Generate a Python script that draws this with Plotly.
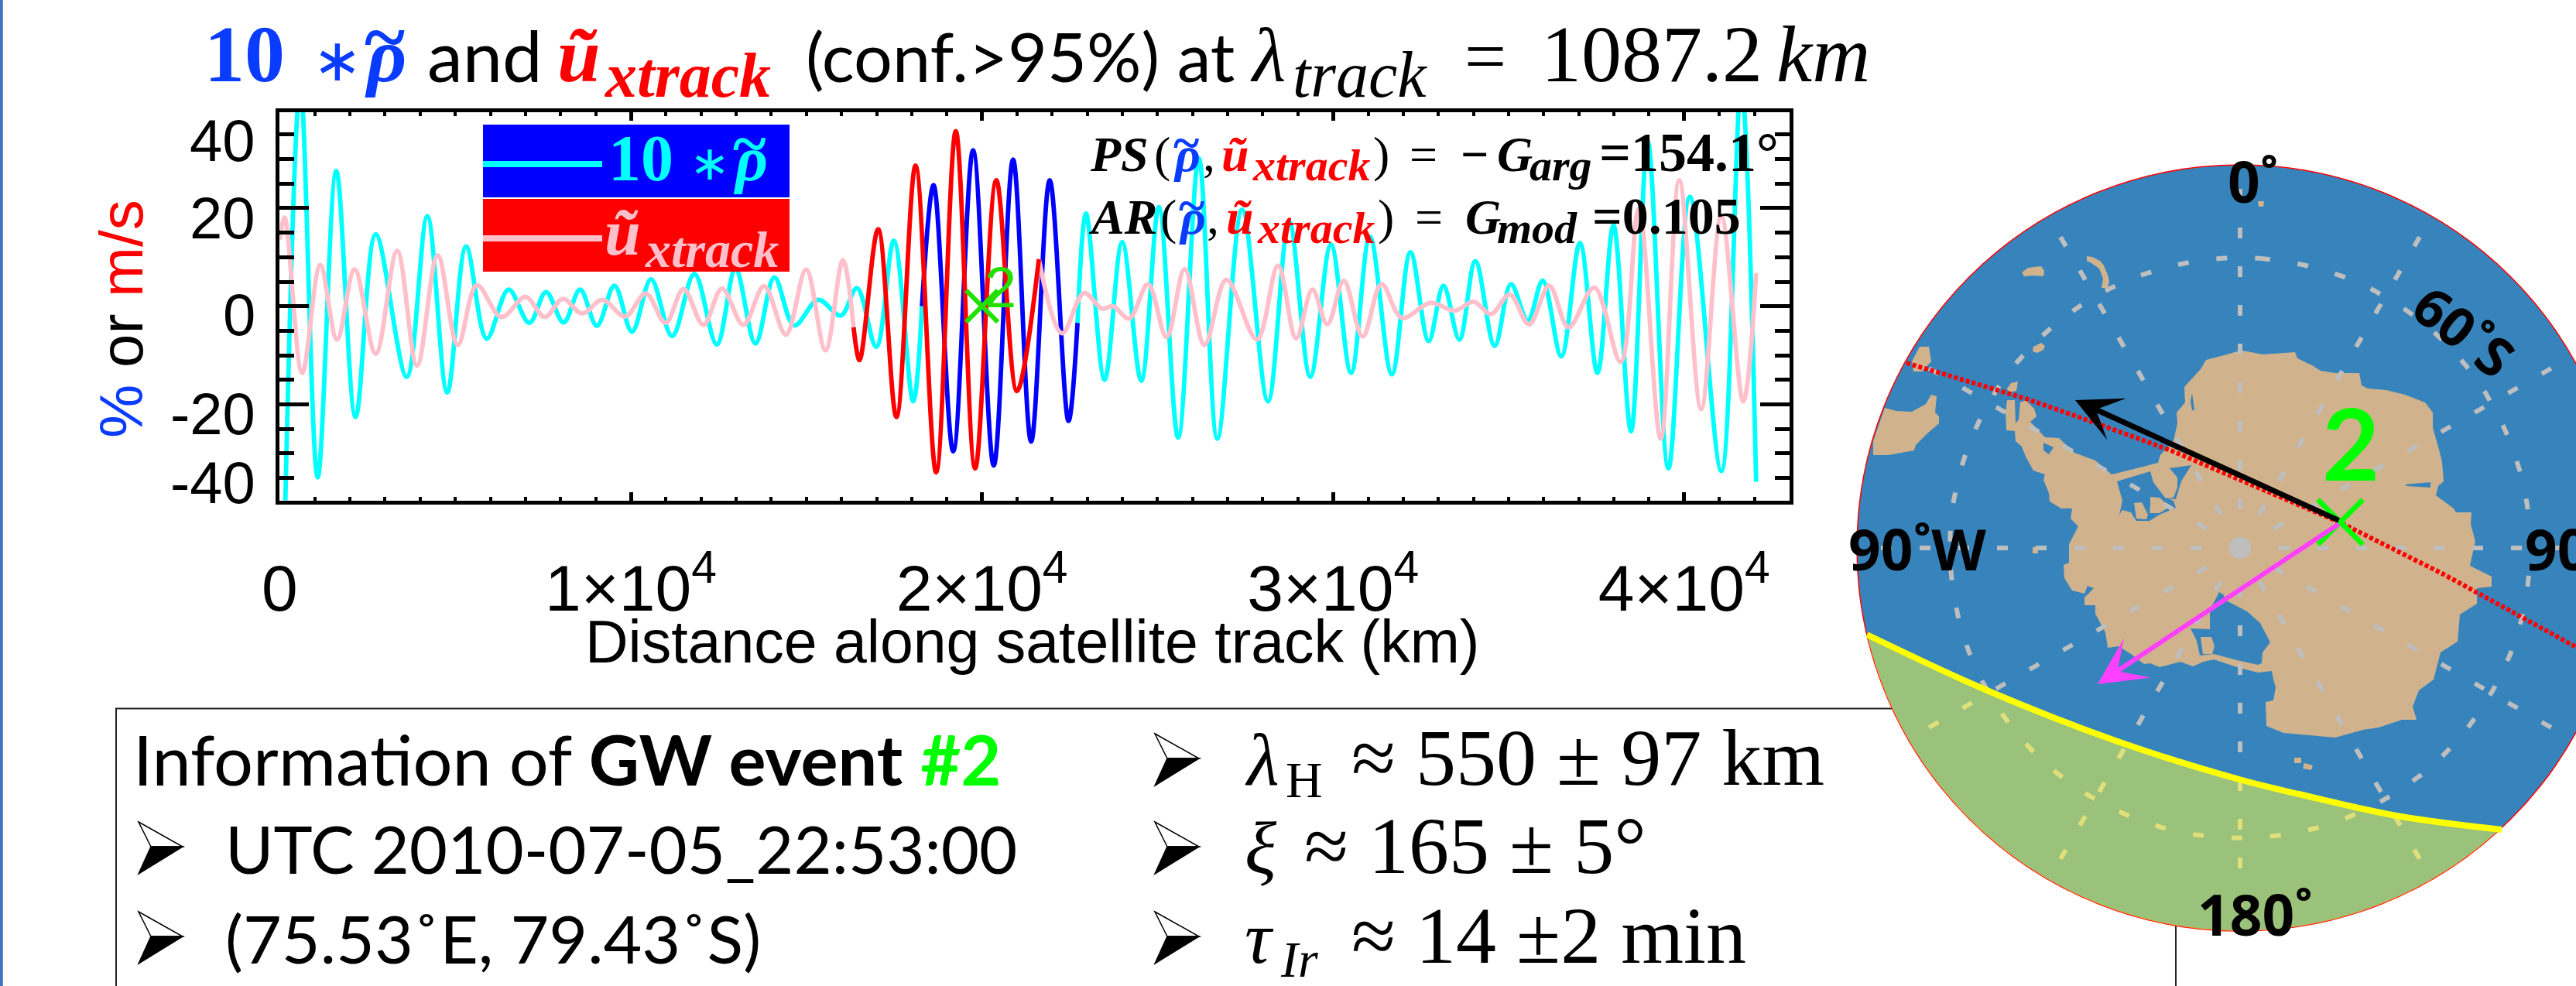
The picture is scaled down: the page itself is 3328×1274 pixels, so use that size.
import numpy as np
import plotly.graph_objects as go

W, H = 3328, 1274

# ---------- wave series (distance km, value) read at extrema ----------
rho_x = [160,588,1080,1610,2160,2734,3616,4204,4770,5307,5895,6519,7107,7585,8085,8555,9033,9533,10033,10576,11175,
         11810,12449,12980,13551,14088,14654,15337,15977,16440,16991,17491,18042,18292,18623,19182,19748,20336,20887,
         21401,21930,22465,22722,22965,23494,23994,24538,25038,25589,26177,26706,27412,28147,28749,29352,29940,30513,
         31050,31675,32204,32725,33145,33598,34054,34605,35068,35546,35972,36501,37031,37531,37986,38486,38964,39552,
         40162,41058,41624,42051]
rho_y = [-39.6,45,-34.9,27.6,-22.6,14.7,-14.4,18.4,-17.6,12.2,-6.6,3.4,-3.4,2.9,-3.3,3.4,-4.0,4.2,-5.2,5.5,-6.1,
         6.6,-7.8,7.6,-7.6,5.9,-3.9,1.3,-1.9,3.7,-8.3,13.4,-19.4,0,24.7,-29.6,31.8,-32.5,29.9,
         -27.6,25.7,-23.4,-3.4,18.9,-15,13.1,-15.2,20.2,-26.8,30.2,-27,19.7,-19.4,17.3,-14.4,12.6,-13.6,
         14.2,-13.9,11.0,-7.1,4.2,-6.8,9.2,-8.1,4.5,-2.9,5.2,-10.2,12.9,-13.6,16.5,-25.5,33.6,-33.1,
         22.3,-33.6,45,-35.8]
u_x = [0,140,640,1154,1632,2132,2734,3344,3910,4498,5071,5615,6314,7000,7548,8063,8614,9187,9841,10430,10988,
       11501,12067,12596,13206,13794,14419,14992,15543,16036,16344,16514,17043,17565,18109,18696,19255,19806,20409,
       20997,21622,22282,22906,23420,23729,24192,24729,25258,25773,26338,26963,27831,28433,28948,29411,29837,30307,
       30844,31381,31961,32770,33466,34003,34502,35032,35583,36156,36707,37442,38192,38707,39331,39860,40485,41058,
       41683,42051]
u_y = [13.6,18.1,-13.6,8.4,-6.8,7.5,-9.7,11.3,-12.1,10.4,-7.9,4.3,-2.2,1.9,-2.2,1.5,-1.5,1.3,-2.1,2.6,-3.4,
       3.5,-3.8,3.6,-3.8,4.1,-5.8,7.5,-9.0,9.4,-4.3,-11.0,15.7,-22.6,28.7,-33.9,35.7,-33.1,25.7,
       -17.3,9.6,-5.5,2.7,-0.5,0,-2.5,4.5,-6.3,7.6,-7.9,5.4,-6.8,8.3,-6.6,3.4,-3.7,5.2,
       -6.2,4.5,-2.4,0.7,-0.9,0.9,-1.6,2.4,-3.7,4.2,-4.3,3.8,-11.4,19.9,-27,25.7,-21,18.4,
       -19.4,6.8]
rho_conf = (18292, 22722)
u_conf = (16344, 21622)
event_x = [20000]
event_y = [0]
x_ticks = [0, 10000, 20000, 30000, 40000]
x_tick_text = ["0", "1×10<sup>4</sup>", "2×10<sup>4</sup>", "3×10<sup>4</sup>", "4×10<sup>4</sup>"]
y_ticks = [-20, 0, 20]

# ---------- map geometry (map units, pole at origin, y towards lon 0) ----------
disc_radius = 495
spoke_lons = list(range(0, 360, 30))
spoke_end = 470
ring_radius = 375
pole_radius = 14
event_lon, event_lat = 75.53, -79.43
map_scale = 12.65   # map units per degree of colatitude

antarctica = [(-6,256),(9,254),(29,250),(46,251),(71,253),(74,245),(93,236),(104,229),(123,226),(154,226),(157,210),
 (165,206),(189,204),(213,198),(239,188),(249,175),(249,155),(256,131),(261,111),(263,86),(256,80),(253,68),(276,51),
 (279,46),(299,46),(298,31),(304,8),(303,5),(297,-23),(325,-37),(325,-50),(306,-52),(306,-72),(284,-86),(281,-121),
 (259,-135),(250,-170),(231,-184),(223,-205),(228,-222),(209,-222),(179,-232),(159,-235),(123,-245),(86,-242),
 (56,-239),(34,-230),(33,-199),(43,-197),(46,-180),(43,-170),(41,-159),(23,-161),(-4,-154),(-34,-144),(-47,-147),
 (-61,-153),(-77,-147),(-104,-154),(-116,-149),(-124,-150),(-141,-137),(-157,-127),(-171,-129),(-174,-109),(-187,-85),
 (-187,-74),(-201,-74),(-201,-64),(-189,-52),(-197,-49),(-201,-59),(-217,-55),(-227,-39),(-228,-22),(-221,-19),(-221,5),
 (-209,28),(-219,38),(-217,51),(-231,51),(-246,60),(-247,71),(-254,88),(-252,95),(-267,100),(-277,118),(-282,131),
 (-290,138),(-291,151),(-302,152),(-303,175),(-301,191),(-291,191),(-290,161),(-286,166),(-284,188),(-277,191),
 (-266,180),(-263,170),(-271,163),(-261,153),(-252,143),(-234,142),(-214,123),(-187,113),(-166,95),(-141,101),
 (-106,110),(-103,120),(-86,138),(-81,161),(-82,175),(-71,188),(-72,208),(-51,231),(-44,243),(-17,250),(0,255)]
seas = [
 [(-159,86),(-116,99),(-112,85),(-97,65),(-86,61),(-83,52),(-104,43),(-117,35),(-134,35),(-141,46),(-152,49),(-156,43),(-152,61)],
 [(-91,103),(-63,107),(-76,86),(-83,63),(-99,64),(-86,65),(-81,78),(-81,91)],
 [(-254,136),(-241,130),(-247,121),(-254,126)],
 [(-62,200),(-59,178),(-62,178),(-64,190)],
 [(213,82),(246,85),(246,78),(216,80)],
 [(-27,-57),(-22,-60),(-16,-69),(9,-82),(26,-97),(39,-122),(29,-135),(28,-149),(23,-151),(-4,-145),(-34,-137),(-46,-138),
  (-52,-139),(-56,-120),(-64,-104),(-39,-105),(-39,-79),(-31,-65)],
]
islands = [
 [(-137,58),(-127,59),(-119,43),(-121,37),(-134,38)],
 [(-116,66),(-104,65),(-91,53),(-104,45),(-117,45),(-116,55)],
 [(-51,-115),(-37,-115),(-33,-127),(-36,-137),(-48,-137)],
 [(-282,356),(-274,362),(-257,364),(-253,358),(-254,351),(-267,352),(-279,351)],
 [(-198,377),(-191,376),(-181,371),(-176,365),(-171,353),(-169,345),(-171,336),(-179,336),(-177,348),(-182,361),(-192,368),(-198,371)],
 [(-267,260),(-257,265),(-252,261),(-254,256),(-262,252),(-268,254)],
 [(-424,241),(-414,260),(-402,260),(-399,241),(-411,228),(-422,228)],
 [(-474,120),(-454,120),(-421,126),(-419,133),(-404,148),(-389,161),(-389,170),(-394,175),(-392,196),(-399,198),(-406,186),(-424,176),(-444,177),(-459,181),(-474,138)],
 [(-268,1),(-261,2),(-261,-7),(-268,-7)],
 [(-296,213),(-287,215),(-289,203),(-299,201),(-301,206)],
 [(23,448),(31,448),(30,441),(24,441)],
 [(70,-271),(79,-271),(79,-278),(70,-278)],
 [(83,-278),(94,-281),(92,-287),(81,-285)],
]
terminator = [(-482,-112),(-327,-184),(-161,-249),(-1,-299),(76,-318),(202,-346),(338,-364)]
track = [(-431,239),(-349,215),(-277,193),(-191,163),(-87,125),(129,33),(263,-34),(434,-128)]
wind_tip = (-213, 191)
wave_tip = (-184, -176)

# ---------- styles ----------
SANS = "Liberation Sans"; SERIF = "Liberation Serif"; CAL = "Lato"; MAPF = "Open Sans"
BLUE = "#0A3CFF"; RED = "#FF0000"; LIME = "#00FF00"; XGREEN = "#22E000"
OCEAN = "#3784BC"; LAND = "#D0B28C"; GRID = "#BEBEBE"
OFF = {SANS: .3465, SERIF: .3465, CAL: .387, MAPF: .388}

fig = go.Figure()

def seg(xs, ys, lo, hi):
    xs, ys = np.array(xs), np.array(ys)
    m = (xs >= lo) & (xs <= hi)
    return xs[m], ys[m]

def wave(xs, ys, color, lo=-1e9, hi=1e9):
    a, b = seg(xs, ys, lo, hi)
    fig.add_trace(go.Scatter(x=a, y=b, mode="lines", xaxis="x", yaxis="y", hoverinfo="skip",
                             line=dict(color=color, width=5.8, shape="spline", smoothing=1.0)))

wave(rho_x, rho_y, "#00FFFF", hi=rho_conf[0])
wave(rho_x, rho_y, "#00FFFF", lo=rho_conf[1])
wave(rho_x, rho_y, "#0000FF", rho_conf[0], rho_conf[1])
wave(u_x, u_y, "#FFC0CB", hi=u_conf[0])
wave(u_x, u_y, "#FFC0CB", lo=u_conf[1])
wave(u_x, u_y, "#FF0000", u_conf[0], u_conf[1])
fig.add_trace(go.Scatter(x=event_x, y=event_y, mode="markers", xaxis="x", yaxis="y", hoverinfo="skip",
                         marker=dict(symbol="x-thin", size=41, line=dict(color=XGREEN, width=6))))

# ---------- map ----------
def poly(points, color):
    fig.add_trace(go.Scatter(x=[p[0] for p in points], y=[p[1] for p in points], mode="lines", fill="toself",
                             fillcolor=color, line=dict(width=0, color=color), xaxis="x2", yaxis="y2", hoverinfo="skip"))

poly(antarctica, LAND)
for s in seas:
    poly(s, OCEAN)
for s in islands:
    poly(s, LAND)

for lon in spoke_lons:
    a = np.radians(lon)
    fig.add_trace(go.Scatter(x=[0, spoke_end*np.sin(a)], y=[0, spoke_end*np.cos(a)], mode="lines", xaxis="x2", yaxis="y2",
                             hoverinfo="skip", line=dict(color=GRID, width=6, dash="14px,36px")))
th = np.radians(np.linspace(3.8, 363.8, 361))
fig.add_trace(go.Scatter(x=ring_radius*np.sin(th), y=ring_radius*np.cos(th), mode="lines", xaxis="x2", yaxis="y2",
                         hoverinfo="skip", line=dict(color=GRID, width=6, dash="14px,36px")))
th = np.linspace(0, 2*np.pi, 73)
fig.add_trace(go.Scatter(x=pole_radius*np.sin(th), y=pole_radius*np.cos(th), mode="lines", fill="toself", fillcolor=GRID,
                         line=dict(width=0, color=GRID), xaxis="x2", yaxis="y2", hoverinfo="skip"))

# night side: terminator + disc arc
a0 = np.arctan2(terminator[-1][1], terminator[-1][0])
a1 = np.arctan2(terminator[0][1], terminator[0][0])
arc = np.linspace(a0, a1, 90)
night_x = [p[0] for p in terminator] + list(disc_radius*np.cos(arc))
night_y = [p[1] for p in terminator] + list(disc_radius*np.sin(arc))
fig.add_trace(go.Scatter(x=night_x, y=night_y, mode="lines", fill="toself", fillcolor="rgba(255,255,55,0.5)",
                         line=dict(width=0, color="rgba(0,0,0,0)"), xaxis="x2", yaxis="y2", hoverinfo="skip"))
fig.add_trace(go.Scatter(x=[p[0] for p in terminator], y=[p[1] for p in terminator], mode="lines", xaxis="x2", yaxis="y2",
                         hoverinfo="skip", line=dict(color="#FFFF00", width=8, shape="spline")))
fig.add_trace(go.Scatter(x=[p[0] for p in track], y=[p[1] for p in track], mode="lines", xaxis="x2", yaxis="y2",
                         hoverinfo="skip", line=dict(color="#FF0000", width=6, dash="5px,3px")))
r_ev = (90 + event_lat)*map_scale
ev_X = r_ev*np.sin(np.radians(event_lon)); ev_Y = r_ev*np.cos(np.radians(event_lon))
fig.add_trace(go.Scatter(x=[ev_X], y=[ev_Y], mode="markers", xaxis="x2", yaxis="y2", hoverinfo="skip",
                         marker=dict(symbol="x-thin", size=58, line=dict(color=LIME, width=6.5))))

# ---------- helpers in page pixels ----------
def px(x): return x/W
def py(y): return 1 - y/H

ann = []
def label(text, x, base, size, family=SANS, color="black", anchor="left", bold=False, italic=False, angle=0):
    t = text
    if italic: t = f"<i>{t}</i>"
    if bold: t = f"<b>{t}</b>"
    ann.append(dict(text=t, x=px(x), y=py(base - OFF.get(family, .35)*size), xref="paper", yref="paper", xanchor=anchor,
                    yanchor="middle", showarrow=False, textangle=angle, borderpad=0,
                    font=dict(family=family, size=size, color=color)))

def rho(x, base, size, color):
    """rho with a tilde placed over it."""
    label("ρ", x + .04*size, base, size, SERIF, color, bold=True, italic=True)
    label("~", x + .04*size, base - .24*size, size, SERIF, color, bold=True)

# y tick labels
for s, yb in zip(["40", "20", "0", "-20", "-40"], [208, 308, 433, 561, 650]):
    label(s, 331, yb, 76, anchor="right")
ann.append(dict(text=f'<span style="color:{BLUE}">%</span> or <span style="color:{RED}">m/s</span>', x=px(157), y=py(412),
                xref="paper", yref="paper", xanchor="center", yanchor="middle", showarrow=False, textangle=-90,
                font=dict(family=SANS, size=78, color="black")))
label("Distance along satellite track (km)", 1333, 856, 77, SANS, anchor="center")

# title
label("10", 263, 106, 104, SERIF, BLUE, bold=True)
label("∗", 403, 104, 76, SERIF, BLUE)
rho(466, 106, 100, BLUE)
label("and", 551, 106, 92, CAL)
label("ũ", 719, 106, 100, SERIF, RED, bold=True, italic=True)
label("xtrack", 780, 126, 82, SERIF, RED, bold=True, italic=True)
label("(conf.>95%) at", 1040, 106, 88, CAL)
label("λ", 1614, 106, 100, SERIF, italic=True)
label("track", 1669, 126, 84, SERIF, italic=True)
label("=", 1891, 106, 96, SERIF)
label("1087.2", 1990, 106, 104, SERIF)
label("km", 2294, 106, 104, SERIF, italic=True)

# PS / AR text
def ratio_line(xs, base, first):
    s = 64
    label(first, xs[0], base, s, SERIF, bold=True, italic=True)
    label("(", xs[1], base, s, SERIF)
    rho(xs[2], base, s, BLUE)
    label(",", xs[3], base, s, SERIF)
    label("ũ", xs[4], base, s, SERIF, RED, bold=True, italic=True)
    label("xtrack", xs[5], base+12, 58, SERIF, RED, bold=True, italic=True)
    label(")", xs[6], base, s, SERIF)
    label("=", xs[7], base, s, SERIF)

ratio_line([1407,1490,1512,1553,1577,1617,1773,1820], 222, "PS")
label("−", 1886, 222, 64, SERIF, bold=True)
label("G", 1933, 222, 64, SERIF, bold=True, italic=True)
label("arg", 1975, 234, 58, SERIF, bold=True, italic=True)
label("=154.1°", 2065, 222, 72, SERIF, bold=True)
ratio_line([1405,1498,1519,1558,1583,1623,1779,1827], 303, "AR")
label("G", 1892, 303, 64, SERIF, bold=True, italic=True)
label("mod", 1933, 315, 58, SERIF, bold=True, italic=True)
label("=0.105", 2056, 303, 68, SERIF, bold=True)

# legend texts
label("10", 785, 234, 84, SERIF, "#00FFFF", bold=True)
label("∗", 890, 232, 62, SERIF, "#00FFFF")
rho(943, 234, 82, "#00FFFF")
label("ũ", 780, 330, 84, SERIF, "#FFC0CB", bold=True, italic=True)
label("xtrack", 832, 345, 66, SERIF, "#FFC0CB", bold=True, italic=True)
label("2", 1292, 397, 74, SANS, XGREEN, anchor="center")

# info box
C1 = 170; C2 = 290; M1 = 1607
ann.append(dict(text=f'Information of <b>GW event</b> <b><span style="color:{LIME}">#2</span></b>', x=px(C1),
                y=py(1015-.387*90), xref="paper", yref="paper", xanchor="left", yanchor="middle", showarrow=False,
                font=dict(family=CAL, size=90, color="black")))
label("UTC 2010-07-05_22:53:00", C2, 1129, 85, CAL)
label("(75.53˚E, 79.43˚S)", C2, 1245, 86, CAL)
label("λ", M1, 1015, 96, SERIF, italic=True)
label("H", 1660, 1030, 66, SERIF)
label("≈ 550 ± 97 km", 1745, 1015, 104, SERIF)
label("ξ", M1, 1129, 96, SERIF, italic=True)
label("≈ 165 ± 5°", 1684, 1129, 104, SERIF)
label("τ", M1, 1245, 96, SERIF, italic=True)
label("Ir", 1653, 1262, 66, SERIF, italic=True)
label("≈ 14 ±2 min", 1745, 1245, 104, SERIF)

# map labels
label("0˚", 2877, 262, 73, MAPF, bold=True)
label("90˚W", 2387, 737, 73, MAPF, bold=True)
label("90˚E", 3261, 737, 73, MAPF, bold=True)
label("180˚", 2838, 1209, 73, MAPF, bold=True)
label("2", 3037, 621, 128, CAL, LIME, anchor="center", bold=True)
ann.append(dict(text="<b>60˚S</b>", x=px(3183), y=py(427), xref="paper", yref="paper", xanchor="center", yanchor="middle",
                showarrow=False, textangle=38, font=dict(family=MAPF, size=70, color="black")))

# arrows
ann.append(dict(x=wind_tip[0], y=wind_tip[1], ax=track[5][0], ay=track[5][1]+2, xref="x2", yref="y2", axref="x2", ayref="y2",
                text="", showarrow=True, arrowhead=3, arrowsize=1.4, arrowwidth=7, arrowcolor="black", standoff=0))
ann.append(dict(x=wave_tip[0], y=wave_tip[1], ax=track[5][0], ay=track[5][1]-1, xref="x2", yref="y2", axref="x2", ayref="y2",
                text="", showarrow=True, arrowhead=3, arrowsize=1.7, arrowwidth=6, arrowcolor="#FF40FF", standoff=0))

shapes = [
    dict(type="rect", xref="paper", yref="paper", x0=0, x1=px(3.8), y0=0, y1=1, fillcolor="#4472C4", line_width=0, layer="below"),
    dict(type="rect", xref="paper", yref="paper", x0=px(150), x1=px(2811), y0=py(915.5), y1=py(1300),
         line=dict(color="#222222", width=2), fillcolor="rgba(0,0,0,0)", layer="below"),
    dict(type="circle", xref="x2", yref="y2", x0=-disc_radius, x1=disc_radius, y0=-disc_radius, y1=disc_radius,
         fillcolor=OCEAN, line=dict(color="#FF0000", width=1.5), layer="below"),
    dict(type="rect", xref="paper", yref="paper", x0=px(624), x1=px(1020), y0=py(255), y1=py(161), fillcolor="#0000FF", line_width=0, layer="above"),
    dict(type="rect", xref="paper", yref="paper", x0=px(624), x1=px(1020), y0=py(351), y1=py(257), fillcolor="#FF0000", line_width=0, layer="above"),
    dict(type="line", xref="paper", yref="paper", x0=px(624), x1=px(778), y0=py(212), y1=py(212), line=dict(color="#00FFFF", width=8), layer="above"),
    dict(type="line", xref="paper", yref="paper", x0=px(624), x1=px(778), y0=py(308), y1=py(308), line=dict(color="#FFC0CB", width=8), layer="above"),
]
# list bullets (two-tone arrowheads), base line of each list row
for bx, base in [(179, 1129), (179, 1245), (1492, 1015), (1492, 1129), (1492, 1245)]:
    p = lambda dx, dy: f"{px(bx+dx):.5f},{py(base+dy):.5f}"
    shapes.append(dict(type="path", xref="paper", yref="paper", layer="above", fillcolor="white",
                       line=dict(color="black", width=1.5), path=f"M{p(0,-67)} L{p(57,-35)} L{p(16,-35)} Z"))
    shapes.append(dict(type="path", xref="paper", yref="paper", layer="above", fillcolor="black",
                       line=dict(color="black", width=1.5), path=f"M{p(16,-35)} L{p(57,-35)} L{p(0,0)} Z"))

fig.update_layout(
    width=W, height=H, margin=dict(l=0, r=0, t=0, b=0, autoexpand=False), paper_bgcolor="white", plot_bgcolor="rgba(0,0,0,0)",
    showlegend=False, annotations=ann, shapes=shapes,
    xaxis=dict(domain=[px(361.4), px(2312)], range=[0, 43003], anchor="y", tickmode="array", tickvals=x_ticks, ticktext=x_tick_text,
               ticks="inside", ticklen=11, tickwidth=4.5, tickcolor="black", showgrid=False, zeroline=False, showline=True,
               linewidth=4.5, linecolor="black", mirror="ticks", ticklabelstandoff=36,
               tickfont=dict(family=SANS, size=84, color="black"),
               minor=dict(tickmode="linear", tick0=0, dtick=1000, ticks="inside", ticklen=5, tickwidth=4, tickcolor="black", showgrid=False)),
    yaxis=dict(domain=[py(647), py(145)], range=[-39.67, 39.57], anchor="x", tickmode="array", tickvals=y_ticks, showticklabels=False,
               ticks="inside", ticklen=38, tickwidth=4.5, tickcolor="black", showgrid=False, zeroline=False, showline=True,
               linewidth=4.5, linecolor="black", mirror="ticks",
               minor=dict(tickmode="linear", tick0=0, dtick=5, ticks="inside", ticklen=19, tickwidth=4.5, tickcolor="black", showgrid=False)),
    xaxis2=dict(domain=[px(2390), 1], range=[-504, 434], anchor="y2", visible=False, showgrid=False, zeroline=False),
    yaxis2=dict(domain=[py(1215), py(200)], range=[-507, 508], anchor="x2", visible=False, showgrid=False, zeroline=False),
)

fig.write_html("out.html", config=dict(displayModeBar=False),
               post_script="document.body.style.margin='0';document.body.style.overflow='hidden';")
